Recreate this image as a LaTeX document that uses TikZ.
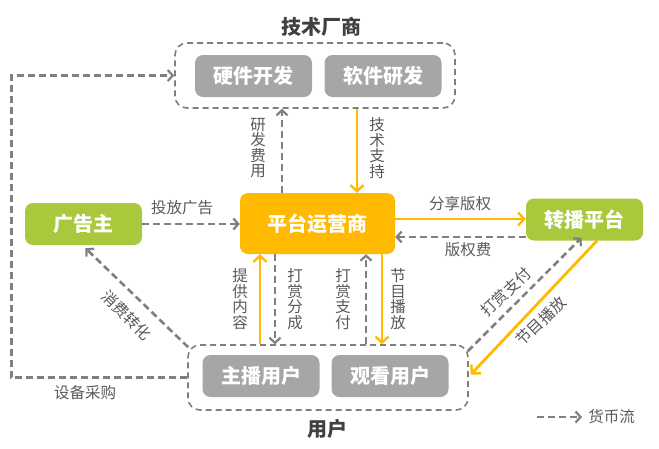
\documentclass[tikz,border=0pt]{standalone}
\usepackage{fontspec}
\setmainfont{Noto Sans CJK SC}
\usetikzlibrary{arrows.meta}

\definecolor{platorange}{HTML}{FFB900}
\definecolor{boxgreen}{HTML}{A9C83B}
\definecolor{boxgray}{HTML}{A6A6A6}
\definecolor{flowgray}{HTML}{7F7F7F}
\definecolor{labelgray}{HTML}{595959}

\tikzset{
  box/.style={rounded corners=8pt, inner sep=0pt, text=white,
    font=\bfseries\fontsize{20}{20}\selectfont, minimum width=117pt, minimum height=42pt},
  group/.style={draw=flowgray, line width=1.6pt, dash pattern=on 6pt off 4pt,
    rounded corners=12pt, inner sep=0pt},
  title/.style={text=black!75, font=\bfseries\fontsize{20}{20}\selectfont},
  money/.style={draw=flowgray, line width=2.6pt, dash pattern=on 7pt off 4pt,
    -{Straight Barb[length=5pt,width=11pt,line width=2.2pt]}},
  goods/.style={draw=platorange, line width=2.8pt,
    -{Straight Barb[length=6pt,width=13pt,line width=2.4pt]}},
  lbl/.style={text=labelgray, font=\fontsize{15.5}{15.5}\selectfont, align=center, inner sep=0pt}
}

\begin{document}
\begin{tikzpicture}[x=1pt,y=-1pt]
\useasboundingbox (0,0) rectangle (659,448);
%% 技术厂商
\node[group, minimum width=280pt, minimum height=65pt] (tech) at (315,75.5) {};
\node[title] (techtitle) at (321,27) {技术厂商};
\node[box, fill=boxgray] (hw) at (253.5,76) {硬件开发};
\node[box, fill=boxgray] (sw) at (383,76) {软件研发};
%% 中间一行
\node[box, fill=boxgreen] (ad) at (83.5,224) {广告主};
\node[box, fill=platorange, minimum width=155pt, minimum height=61pt] (plat) at (317.5,223.5) {平台运营商};
\node[box, fill=boxgreen] (relay) at (584.5,219.5) {转播平台};
%% 用户
\node[group, minimum width=280pt, minimum height=65pt] (users) at (328,377.5) {};
\node[title] (usertitle) at (327,429) {用户};
\node[box, fill=boxgray] (host) at (261,376) {主播用户};
\node[box, fill=boxgray] (viewer) at (390,376) {观看用户};

%% 上下的竖线
\coordinate (xa) at (282,0);
\coordinate (xb) at (357,0);
\coordinate (xc) at (260,0);
\coordinate (xd) at (275,0);
\coordinate (xe) at (366,0);
\coordinate (xf) at (382,0);
\coordinate (ya) at (0,219);
\coordinate (yb) at (0,237);

\draw[money] (users.west) -- ++(-176,0) |- (tech.west);
\draw[money] (plat.north -| xa) -- (tech.south -| xa);
\draw[goods] (tech.south -| xb) -- (plat.north -| xb);
\draw[money] (ad.east) -- (plat.west |- ad.east);
\draw[goods] (plat.east |- ya) -- (relay.west |- ya);
\draw[money] (relay.west |- yb) -- (plat.east |- yb);
\draw[goods] (users.north -| xc) -- (plat.south -| xc);
\draw[money] (plat.south -| xd) -- (users.north -| xd);
\draw[money] (users.north -| xe) -- (plat.south -| xe);
\draw[goods] (plat.south -| xf) -- (users.north -| xf);
%% 斜线
\draw[money] ([shift={(1,3)}]users.north west) -- ([xshift=2pt,yshift=-3pt]ad.south);
\draw[money] ([shift={(-1,7)}]users.north east) -- ([xshift=-3pt,yshift=3pt]relay.south);
\draw[goods] ([xshift=12.5pt]relay.south) -- ([xshift=2pt,yshift=3pt]users.east);

%% 文字
\node[lbl] (l1) at (85,393) {设备采购};
\node[lbl] (l2) at (258,148) {研\\发\\费\\用};
\node[lbl] (l3) at (377,148) {技\\术\\支\\持};
\node[lbl] (l4) at (182,208) {投放广告};
\node[lbl] (l5) at (460,204) {分享版权};
\node[lbl] (l6) at (468,250) {版权费};
\node[lbl] (l7) at (240,299) {提\\供\\内\\容};
\node[lbl] (l8) at (295,299) {打\\赏\\分\\成};
\node[lbl] (l9) at (343,299) {打\\赏\\支\\付};
\node[lbl] (l10) at (398,299) {节\\目\\播\\放};
\node[lbl, rotate=-45] (l11) at (127,315) {消费转化};
\node[lbl, rotate=44] (l12) at (506,292) {打赏支付};
\node[lbl, rotate=44] (l13) at (541,321) {节目播放};

%% 图例
\coordinate (lg) at (537,417);
\draw[money] (lg) -- ++(45,0) node[lbl, right=5pt] (lgtext) {货币流};
\end{tikzpicture}
\end{document}
